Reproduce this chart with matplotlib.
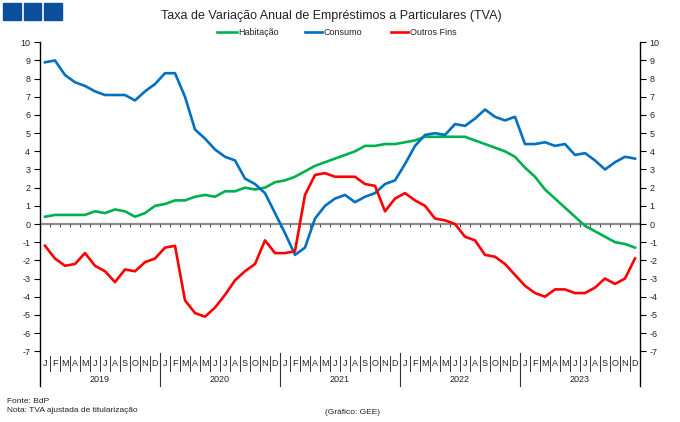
import numpy as np
import matplotlib
matplotlib.use("Agg")
import matplotlib.pyplot as plt
from matplotlib.lines import Line2D
from matplotlib.patches import Rectangle
import matplotlib.transforms as mtransforms

plt.rcParams['font.family'] = ['Liberation Sans', 'DejaVu Sans']
plt.rcParams['axes.unicode_minus'] = False

# ---------------- data (Jan 2019 - Dec 2023) ----------------
anos = ['2019', '2020', '2021', '2022', '2023']
meses = ['J', 'F', 'M', 'A', 'M', 'J', 'J', 'A', 'S', 'O', 'N', 'D']

habitacao = [0.4, 0.5, 0.5, 0.5, 0.5, 0.7, 0.6, 0.8, 0.7, 0.4, 0.6, 1.0,
             1.1, 1.3, 1.3, 1.5, 1.6, 1.5, 1.8, 1.8, 2.0, 1.9, 2.0, 2.3,
             2.4, 2.6, 2.9, 3.2, 3.4, 3.6, 3.8, 4.0, 4.3, 4.3, 4.4, 4.4,
             4.5, 4.6, 4.8, 4.8, 4.8, 4.8, 4.8, 4.6, 4.4, 4.2, 4.0, 3.7,
             3.1, 2.6, 1.9, 1.4, 0.9, 0.4, -0.1, -0.4, -0.7, -1.0, -1.1, -1.3]
consumo = [8.9, 9.0, 8.2, 7.8, 7.6, 7.3, 7.1, 7.1, 7.1, 6.8, 7.3, 7.7,
           8.3, 8.3, 7.0, 5.2, 4.7, 4.1, 3.7, 3.5, 2.5, 2.2, 1.7, 0.6,
           -0.5, -1.7, -1.3, 0.3, 1.0, 1.4, 1.6, 1.2, 1.5, 1.7, 2.2, 2.4,
           3.3, 4.3, 4.9, 5.0, 4.9, 5.5, 5.4, 5.8, 6.3, 5.9, 5.7, 5.9,
           4.4, 4.4, 4.5, 4.3, 4.4, 3.8, 3.9, 3.5, 3.0, 3.4, 3.7, 3.6]
outros = [-1.2, -1.9, -2.3, -2.2, -1.6, -2.3, -2.6, -3.2, -2.5, -2.6, -2.1, -1.9,
          -1.3, -1.2, -4.2, -4.9, -5.1, -4.6, -3.9, -3.1, -2.6, -2.2, -0.9, -1.6,
          -1.6, -1.5, 1.6, 2.7, 2.8, 2.6, 2.6, 2.6, 2.2, 2.1, 0.7, 1.4,
          1.7, 1.3, 1.0, 0.3, 0.2, 0.0, -0.7, -0.9, -1.7, -1.8, -2.2, -2.8,
          -3.4, -3.8, -4.0, -3.6, -3.6, -3.8, -3.8, -3.5, -3.0, -3.3, -3.0, -1.9]

cor_hab = '#00B050'
cor_con = '#0070C0'
cor_out = '#FF0000'
txt = '#222222'

# ---------------- figure ----------------
W, H = 680, 422
fig = plt.figure(figsize=(W/100, H/100), dpi=100)
# plot area in pixels: x 40..640, y (10) 42.3 .. (-7) 351.2
ax = fig.add_axes([40/W, 1-351.2/H, 600/W, (351.2-42.3)/H])
n = len(habitacao)
x = np.arange(n) + 0.5

ax.plot(x, habitacao, color=cor_hab, lw=1.9, solid_joinstyle='round')
ax.plot(x, consumo, color=cor_con, lw=1.9, solid_joinstyle='round')
ax.plot(x, outros, color=cor_out, lw=1.9, solid_joinstyle='round')

ax.set_xlim(0, n)
ax.set_ylim(-7, 10)
ax.set_yticks(np.arange(-7, 11, 1))
ax.set_xticks([])
for s in ax.spines.values():
    s.set_visible(False)
ax.yaxis.set_ticks_position('both')
ax.tick_params(axis='y', direction='out', length=4, width=0.8, color='black',
               labelsize=6.5, labelcolor=txt, labelright=True, pad=3)

# zero line with small ticks
ax.axhline(0, color='#8C8C8C', lw=1.6, zorder=1)
ax.vlines(np.arange(n+1), -0.17, 0, color='#444444', lw=0.7, zorder=1)

# vertical axis lines extended through category labels
tr = mtransforms.blended_transform_factory(ax.transData, ax.transAxes)
ybot = (351.2-386)/308.9
for xv in [0, n]:
    ax.add_line(Line2D([xv, xv], [1, ybot], transform=tr, color='black',
                       lw=1.0, clip_on=False))

# month labels and separators
ym = (351.2-363)/308.9
for i in range(n):
    ax.text(i+0.5, ym, meses[i % 12], transform=tr, ha='center', va='center',
            fontsize=6.5, color=txt)
for k in range(1, n):
    if k % 12 == 0:
        ax.add_line(Line2D([k, k], [(351.2-353)/308.9, ybot], transform=tr,
                           color='#333333', lw=0.8, clip_on=False))
    else:
        ax.add_line(Line2D([k, k], [(351.2-356)/308.9, (351.2-371)/308.9],
                           transform=tr, color='#333333', lw=0.7, clip_on=False))
yy = (351.2-379)/308.9
for j, a in enumerate(anos):
    ax.text(j*12+6, yy, a, transform=tr, ha='center', va='center',
            fontsize=6.5, color=txt)

# ---------------- title, legend, squares, footer ----------------
for x0 in [3, 23.5, 44]:
    fig.add_artist(Rectangle((x0/W, 1-19.5/H), 17.5/W, 16.5/H,
                             transform=fig.transFigure, color='#0B4F9C'))

fig.text(331/W, 1-16/H, 'Taxa de Variação Anual de Empréstimos a Particulares (TVA)',
         ha='center', va='center', fontsize=9, color=txt)

leg = [(217, 237, 'Habitação', cor_hab), (305, 322, 'Consumo', cor_con),
       (391, 408, 'Outros Fins', cor_out)]
for x0, x1, lab, c in leg:
    fig.add_artist(Line2D([x0/W, x1/W], [1-32.3/H, 1-32.3/H],
                          transform=fig.transFigure, color=c, lw=1.9))
    fig.text((x1+1.5)/W, 1-32.3/H, lab, ha='left', va='center',
             fontsize=6.5, color=txt)

fig.text(7/W, 1-401.5/H, 'Fonte: BdP', ha='left', va='center', fontsize=6, color=txt)
fig.text(7/W, 1-410.5/H, 'Nota: TVA ajustada de titularização', ha='left',
         va='center', fontsize=6, color=txt)
fig.text(352/W, 1-412/H, '(Gráfico: GEE)', ha='center', va='center',
         fontsize=6, color=txt)

fig.savefig('out.png', dpi=100)
